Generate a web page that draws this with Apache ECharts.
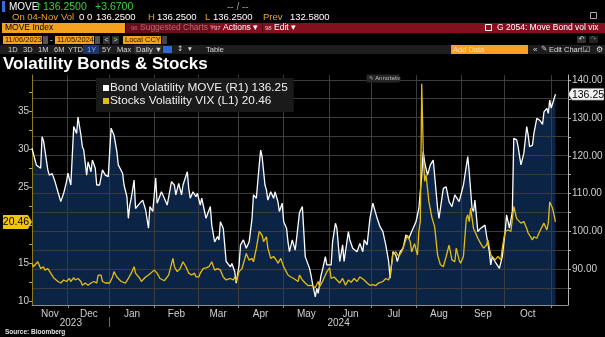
<!DOCTYPE html>
<html><head><meta charset="utf-8">
<script src="https://cdn.jsdelivr.net/npm/echarts@6/dist/echarts.min.js"></script>
<style>html,body{margin:0;padding:0;background:#000;overflow:hidden}#c{width:605px;height:337px}</style>
</head><body><div id="c"></div>
<script>
// ---- data ----
const moveDates = ['2023-11-06','2023-11-09','2023-11-12','2023-11-13','2023-11-14','2023-11-17','2023-11-18','2023-11-20','2023-11-22','2023-11-24','2023-11-26','2023-11-28','2023-11-30','2023-12-01','2023-12-03','2023-12-05','2023-12-07','2023-12-08','2023-12-10','2023-12-11','2023-12-12','2023-12-14','2023-12-15','2023-12-17','2023-12-18','2023-12-20','2023-12-21','2023-12-23','2023-12-25','2023-12-27','2023-12-29','2023-12-31','2024-01-02','2024-01-04','2024-01-05','2024-01-06','2024-01-08','2024-01-09','2024-01-11','2024-01-12','2024-01-13','2024-01-14','2024-01-16','2024-01-17','2024-01-20','2024-01-22','2024-01-24','2024-01-26','2024-01-27','2024-01-29','2024-01-31','2024-02-01','2024-02-04','2024-02-06','2024-02-08','2024-02-11','2024-02-13','2024-02-14','2024-02-16','2024-02-18','2024-02-19','2024-02-22','2024-02-23','2024-02-24','2024-02-26','2024-02-28','2024-02-29','2024-03-02','2024-03-03','2024-03-05','2024-03-06','2024-03-09','2024-03-10','2024-03-12','2024-03-14','2024-03-15','2024-03-16','2024-03-18','2024-03-19','2024-03-20','2024-03-23','2024-03-24','2024-03-26','2024-03-27','2024-03-29','2024-03-30','2024-04-01','2024-04-03','2024-04-05','2024-04-07','2024-04-08','2024-04-10','2024-04-12','2024-04-13','2024-04-14','2024-04-16','2024-04-17','2024-04-18','2024-04-20','2024-04-22','2024-04-23','2024-04-25','2024-04-26','2024-04-28','2024-04-29','2024-05-01','2024-05-02','2024-05-03','2024-05-05','2024-05-07','2024-05-08','2024-05-10','2024-05-12','2024-05-13','2024-05-14','2024-05-17','2024-05-18','2024-05-19','2024-05-21','2024-05-22','2024-05-23','2024-05-25','2024-05-26','2024-05-28','2024-05-29','2024-06-01','2024-06-02','2024-06-04','2024-06-05','2024-06-07','2024-06-09','2024-06-10','2024-06-13','2024-06-14','2024-06-16','2024-06-19','2024-06-21','2024-06-23','2024-06-24','2024-06-26','2024-06-28','2024-06-30','2024-07-01','2024-07-03','2024-07-05','2024-07-07','2024-07-08','2024-07-09','2024-07-11','2024-07-12','2024-07-13','2024-07-14','2024-07-16','2024-07-17','2024-07-19','2024-07-21','2024-07-23','2024-07-25','2024-07-27','2024-07-28','2024-07-30','2024-08-01','2024-08-03','2024-08-04','2024-08-05','2024-08-07','2024-08-09','2024-08-11','2024-08-12','2024-08-14','2024-08-15','2024-08-18','2024-08-20','2024-08-22','2024-08-24','2024-08-26','2024-08-29','2024-09-01','2024-09-04','2024-09-05','2024-09-07','2024-09-08','2024-09-09','2024-09-11','2024-09-13','2024-09-16','2024-09-17','2024-09-19','2024-09-20','2024-09-21','2024-09-23','2024-09-26','2024-09-28','2024-09-30','2024-10-01','2024-10-03','2024-10-05','2024-10-06','2024-10-08','2024-10-09','2024-10-11','2024-10-12','2024-10-13','2024-10-15','2024-10-16','2024-10-17','2024-10-19','2024-10-20','2024-10-22','2024-10-24','2024-10-26','2024-10-27','2024-10-29','2024-10-30','2024-10-31','2024-11-01','2024-11-04'];
const moveValues = [122.0,117.6,116.7,125.0,124.0,116.3,114.9,115.3,113.2,110.5,107.9,110.1,113.2,115.4,112.3,127.7,125.9,130.2,125.5,122.4,121.5,114.9,118.4,115.8,118.9,116.7,112.3,112.3,116.3,114.9,114.5,127.3,125.5,121.1,117.6,118.0,115.4,112.3,109.2,103.5,107.0,108.8,113.6,106.1,107.5,108.3,105.7,100.9,106.6,105.3,114.1,107.5,110.5,108.8,107.0,113.2,112.3,109.7,112.7,109.7,112.3,115.8,111.4,108.8,110.5,109.2,110.1,107.0,108.8,105.3,103.5,106.6,101.7,97.3,98.7,97.8,102.6,100.9,96.5,92.1,90.7,91.6,89.4,86.4,91.2,96.5,97.8,95.6,97.3,103.5,109.7,108.8,117.6,121.5,119.8,112.3,111.0,108.3,110.5,108.8,110.5,107.9,105.3,107.5,102.6,100.9,97.3,94.7,97.8,95.1,98.2,105.0,106.6,100.0,93.4,90.3,88.5,86.4,82.8,85.0,83.7,88.5,89.9,93.4,91.2,91.2,97.3,102.2,100.9,92.1,96.5,92.1,100.0,97.8,95.6,94.7,96.9,94.7,97.8,96.5,103.5,107.5,107.9,103.5,101.3,100.0,98.2,96.5,92.1,87.7,91.2,94.7,93.8,92.1,94.7,95.6,99.1,98.2,100.0,100.4,102.6,106.1,114.9,121.1,118.4,114.9,117.6,118.9,118.6,106.3,103.5,111.4,111.8,107.9,106.6,109.7,107.9,112.3,119.8,115.8,106.1,105.3,108.3,100.0,100.9,101.7,99.1,94.7,91.2,93.4,92.1,90.3,93.4,100.0,104.4,100.9,105.3,124.6,124.2,122.4,117.6,117.1,120.7,127.7,125.5,122.4,122.8,125.9,129.9,129.4,128.3,131.6,132.5,131.2,134.7,132.58,136.25];

const vixDates = ['2023-11-06','2023-11-07','2023-11-10','2023-11-12','2023-11-14','2023-11-15','2023-11-17','2023-11-19','2023-11-21','2023-11-24','2023-11-26','2023-11-28','2023-11-30','2023-12-02','2023-12-03','2023-12-05','2023-12-06','2023-12-08','2023-12-10','2023-12-11','2023-12-13','2023-12-15','2023-12-17','2023-12-19','2023-12-21','2023-12-22','2023-12-24','2023-12-25','2023-12-27','2023-12-30','2024-01-01','2024-01-02','2024-01-04','2024-01-07','2024-01-10','2024-01-12','2024-01-14','2024-01-16','2024-01-17','2024-01-20','2024-01-21','2024-01-24','2024-01-26','2024-01-27','2024-01-30','2024-02-01','2024-02-03','2024-02-06','2024-02-09','2024-02-12','2024-02-13','2024-02-15','2024-02-17','2024-02-19','2024-02-21','2024-02-23','2024-02-25','2024-02-27','2024-02-28','2024-03-01','2024-03-02','2024-03-04','2024-03-06','2024-03-08','2024-03-10','2024-03-12','2024-03-14','2024-03-16','2024-03-18','2024-03-20','2024-03-23','2024-03-25','2024-03-26','2024-03-27','2024-03-29','2024-03-31','2024-04-03','2024-04-04','2024-04-05','2024-04-07','2024-04-08','2024-04-10','2024-04-12','2024-04-14','2024-04-15','2024-04-17','2024-04-18','2024-04-20','2024-04-22','2024-04-24','2024-04-25','2024-04-26','2024-04-27','2024-04-29','2024-05-02','2024-05-04','2024-05-06','2024-05-09','2024-05-10','2024-05-12','2024-05-14','2024-05-16','2024-05-18','2024-05-21','2024-05-23','2024-05-24','2024-05-26','2024-05-28','2024-05-29','2024-05-31','2024-06-01','2024-06-03','2024-06-05','2024-06-07','2024-06-09','2024-06-11','2024-06-13','2024-06-15','2024-06-17','2024-06-19','2024-06-21','2024-06-24','2024-06-26','2024-06-28','2024-06-30','2024-07-02','2024-07-04','2024-07-07','2024-07-09','2024-07-11','2024-07-12','2024-07-14','2024-07-16','2024-07-18','2024-07-20','2024-07-21','2024-07-24','2024-07-26','2024-07-27','2024-07-29','2024-07-31','2024-08-01','2024-08-02','2024-08-03','2024-08-04','2024-08-05','2024-08-06','2024-08-08','2024-08-10','2024-08-12','2024-08-14','2024-08-16','2024-08-18','2024-08-20','2024-08-21','2024-08-22','2024-08-24','2024-08-26','2024-08-27','2024-08-29','2024-08-30','2024-09-01','2024-09-03','2024-09-04','2024-09-05','2024-09-06','2024-09-08','2024-09-09','2024-09-11','2024-09-13','2024-09-15','2024-09-17','2024-09-18','2024-09-20','2024-09-21','2024-09-23','2024-09-25','2024-09-27','2024-09-28','2024-09-30','2024-10-02','2024-10-04','2024-10-06','2024-10-08','2024-10-09','2024-10-11','2024-10-13','2024-10-15','2024-10-16','2024-10-19','2024-10-20','2024-10-22','2024-10-24','2024-10-25','2024-10-27','2024-10-29','2024-10-30','2024-10-31','2024-11-02','2024-11-03','2024-11-04'];
const vixValues = [15.0,14.55,15.2,14.3,14.55,14.1,14.3,13.7,13.1,12.6,12.4,12.8,12.6,13.0,12.6,13.1,12.8,13.0,12.6,12.1,12.4,12.1,12.4,12.6,12.4,13.45,13.45,12.6,12.4,12.4,13.2,13.9,13.2,12.6,12.4,13.0,13.7,14.55,13.7,13.0,12.6,13.2,13.45,13.2,14.1,13.7,13.0,12.7,13.45,15.65,14.55,13.9,14.3,15.2,14.55,13.7,13.45,13.7,13.2,13.2,13.7,14.3,14.4,14.55,15.2,14.1,14.3,14.1,13.2,12.8,13.0,12.8,13.2,12.6,13.9,14.3,16.3,16.1,15.4,15.65,15.2,17.0,19.2,18.7,17.85,18.5,17.0,15.65,15.9,15.4,15.0,15.2,15.65,14.55,13.45,13.2,13.0,12.6,13.45,12.8,12.4,12.05,12.1,11.8,12.6,11.9,12.6,13.45,13.9,14.4,13.0,13.2,12.8,12.4,13.0,12.1,12.8,12.5,13.0,12.6,13.2,12.8,12.4,12.1,12.2,12.05,12.4,12.6,13.0,12.8,13.45,16.3,16.5,15.9,16.5,16.75,18.7,17.85,16.5,17.6,16.1,19.2,20.5,38.7,30.2,25.8,26.65,23.1,21.1,19.8,16.1,14.8,14.55,15.9,16.1,17.4,15.45,15.2,17.0,15.45,15.0,15.9,20.9,21.4,20.5,22.25,19.6,19.2,18.3,17.6,17.0,17.4,18.1,16.1,15.9,15.45,15.9,15.45,17.0,19.2,19.4,19.2,22.5,20.9,20.7,20.3,20.5,19.6,19.0,18.1,18.5,18.3,19.2,19.0,20.3,19.4,20.3,23.1,22.25,22.25,20.46];

const moveName = 'Bond Volatility MOVE (R1)';
const vixName = 'Stocks Volatility VIX (L1)';
const axisStart = '2023-11-06';
const axisEnd = '2024-11-12 17:00';
// month boundaries and label centres as placed on the reference's (trading-day) axis
const monthGridAt = ['2023-12-01','2023-12-30','2024-01-30 05:00','2024-02-29 12:00','2024-03-28 08:00','2024-04-28 14:00','2024-05-31','2024-06-29','2024-07-30 05:00','2024-08-30 12:00','2024-09-29 14:00','2024-11-01'];
const monthLabelAt = ['2023-11-18 12:00','2023-12-15 12:00','2024-01-14 14:00','2024-02-14 10:00','2024-03-14 10:00','2024-04-12 22:00','2024-05-14 19:00','2024-06-14 12:00','2024-07-14 14:00','2024-08-14 22:00','2024-09-14 12:00','2024-10-15 19:00'];
const monthAbbr = ['Jan','Feb','Mar','Apr','May','Jun','Jul','Aug','Sep','Oct','Nov','Dec'];
const yearLabelAt = ['2023-12-03','2024-06-06 05:00'];
const yearBreak = ['2023-12-30'];
const vixLabels = [10,15,20,25,30,35];
const vixTicks = [10,12.5,15,17.5,20,22.5,25,27.5,30,32.5,35,37.5];
const moveLabels = [90,100,110,120,130,140];
const moveTicks = [85,90,95,100,105,110,115,120,125,130,135,140];
const vixRange = [9.5, 39.84];
const moveRange = [80.63, 141.32];

// ---- build ----
const ts = s => echarts.number.parseDate(s).getTime();
const moveData = moveDates.map((d, i) => [ts(d), moveValues[i]]);
const vixData = vixDates.map((d, i) => [ts(d), vixValues[i]]);
const lastMove = moveValues[moveValues.length - 1];
const lastVix = vixValues[vixValues.length - 1];
const labelMonth = v => monthAbbr[new Date(v + 3 * 86400000).getMonth()];

const F = "'Liberation Sans', Arial, sans-serif";
const DJ = "'DejaVu Sans', sans-serif";
const T = (x, y, text, fill, size, o) => {
  o = o || {};
  return {type: 'text', x: x, y: y, silent: true, z: o.z || 10,
    style: {text: text, fill: fill, font: (o.bold ? 'bold ' : '') + size + 'px ' + (o.font || F),
      align: o.align || 'left', textAlign: o.align || 'left',
      verticalAlign: 'middle', textVerticalAlign: 'middle'}};
};
const R = (x, y, w, h, fill, stroke) => ({type: 'rect', silent: true, z: 5,
  shape: {x: x, y: y, width: w, height: h}, style: {fill: fill || 'none', stroke: stroke || 'none', lineWidth: 1}});

const AMBER = '#f0a430', GREEN = '#35d33a', ORANGE = '#f4a21f', RED = '#84101f';
const header = [
  R(2, 1, 3, 11, '#2e6fe0'),
  T(9, 7, 'MOVE', '#ffffff', 10),
  T(34, 7, '\u2191', GREEN, 10, {font: DJ}),
  T(43, 7, '136.2500', GREEN, 10.5),
  T(95, 7, '+3.6700', GREEN, 10.5),
  T(227, 7, '-- / --', '#9a9a9a', 10),
  R(590.5, 12.5, 6, 6, null, '#aaaaaa'),
  T(12, 17, 'On 04-Nov', AMBER, 9.5),
  T(61, 17, 'Vol', AMBER, 9.5),
  T(79, 17, '0 0', '#ffffff', 9.5),
  T(96, 17, '136.2500', '#ffffff', 9.5),
  T(148, 17, 'H', AMBER, 9.5),
  T(157, 17, '136.2500', '#ffffff', 9.5),
  T(205, 17, 'L', AMBER, 9.5),
  T(213, 17, '136.2500', '#ffffff', 9.5),
  T(263, 17, 'Prev', AMBER, 9.5),
  T(290, 17, '132.5800', '#ffffff', 9.5),
  R(2, 23, 123, 10, ORANGE),
  T(5, 28, 'MOVE Index', '#000000', 8.5),
  R(126, 23, 479, 10, RED),
  R(126, 23, 84, 10, '#6c0d1a'),
  T(131, 28, '96', '#b46a78', 6),
  T(140, 28, 'Suggested Charts \u25BE', '#b46a78', 8.5),
  T(214, 28, '97', '#e8c8cc', 6),
  T(223, 28, 'Actions \u25BE', '#ffffff', 8.5),
  R(262, 23, 1, 10, '#4a0810'),
  T(265, 28, '98', '#e8c8cc', 6),
  T(274, 28, 'Edit \u25BE', '#ffffff', 8.5),
  R(485.5, 24.5, 6, 6, null, '#ffffff'),
  T(497, 28, 'G 2054: Move Bond vol vix', '#ffffff', 8.5),
  R(3, 36, 39, 8, ORANGE),
  T(5, 40, '11/06/2023', '#2a1400', 7.5),
  R(43, 36, 5, 8, '#555555'),
  T(50, 40, '-', '#ffffff', 8),
  R(55, 36, 39, 8, ORANGE),
  T(57, 40, '11/05/2024', '#2a1400', 7.5),
  R(95, 36, 5, 8, '#555555'),
  R(103, 36, 7, 8, '#333333'),
  T(104.5, 40, '<', '#dddddd', 7),
  R(112, 36, 7, 8, '#333333'),
  T(113.5, 40, '>', '#dddddd', 7),
  R(123, 36, 38, 8, ORANGE),
  T(125, 40, 'Local CCY', '#2a1400', 7.5),
  R(162, 36, 5, 8, '#444444'),
  R(577, 36, 9, 7, '#333333'),
  T(581.5, 39.5, '\u21B6', '#dddddd', 7, {align: 'center', font: DJ}),
  R(589, 36, 9, 7, '#222222'),
  T(593.5, 39.5, '\u21B7', '#777777', 7, {align: 'center', font: DJ}),
  R(0, 45, 605, 9, '#1d1d1d'),
  T(8, 49.5, '1D', '#d8d8d8', 7.5),
  T(23, 49.5, '3D', '#d8d8d8', 7.5),
  T(38, 49.5, '1M', '#d8d8d8', 7.5),
  T(54, 49.5, '6M', '#d8d8d8', 7.5),
  T(68, 49.5, 'YTD', '#d8d8d8', 7.5),
  R(83, 45, 16, 9, '#1c3569'),
  T(87, 49.5, '1Y', '#7fb0ff', 7.5),
  T(102, 49.5, '5Y', '#d8d8d8', 7.5),
  T(117, 49.5, 'Max', '#d8d8d8', 7.5),
  R(134, 45, 28, 9, '#2c2c2c'),
  T(136, 49.5, 'Daily \u25BC', '#d8d8d8', 7.5),
  R(163, 46, 9, 7, '#2b6bd6'),
  T(177, 49.5, '\u2195  \u25BE', '#d8d8d8', 7.5, {font: DJ}),
  T(206, 49.5, 'Table', '#d8d8d8', 7.5),
  R(451, 45, 77, 9, ORANGE),
  T(453, 49.5, 'Add Data', '#ffe2a8', 7.5),
  T(533, 49.5, '\u00AB', '#dddddd', 8),
  T(541, 49.5, '\u270E', '#dddddd', 7.5, {font: DJ}),
  T(549, 49.5, 'Edit Chart', '#dddddd', 7.5),
  T(583, 49.5, '\u2611', '#dddddd', 8, {font: DJ}),
  T(596, 49.5, '\u2699', '#dddddd', 8, {font: DJ}),
  T(3, 64.5, 'Volatility Bonds & Stocks', '#ffffff', 17, {bold: true}),
  R(366.5, 74.5, 33, 8, '#262626'),
  T(369, 78.5, '\u270E Annotate', '#bbbbbb', 5.5, {font: DJ}),
  T(5, 332, 'Source: Bloomberg', '#e0e0e0', 6.5, {bold: true})
];

const chart = echarts.init(document.getElementById('c'), null, {renderer: 'canvas'});
const option = {
  backgroundColor: '#000000',
  animation: false,
  grid: {left: 32, right: 37, top: 75, bottom: 32, containLabel: false, outerBoundsMode: 'none'},
  legend: {
    data: [moveName, vixName], orient: 'vertical', left: 96, top: 78, z: 30,
    backgroundColor: '#1a1a1a', padding: [4, 6, 5, 7], itemGap: 1,
    itemWidth: 6, itemHeight: 6, icon: 'rect', selectedMode: false,
    textStyle: {color: '#eeeeee', fontSize: 11.8, fontFamily: F, lineHeight: 12, padding: [0, 0, 0, -4]},
    formatter: n => n + ' ' + (n === moveName ? lastMove : lastVix).toFixed(2)
  },
  xAxis: [{
    type: 'value', min: ts(axisStart), max: ts(axisEnd), z: 3,
    axisLine: {show: true, lineStyle: {color: '#8c8c8c'}},
    axisTick: {show: true, length: 3, customValues: monthGridAt.map(ts), lineStyle: {color: '#8c8c8c'}},
    axisLabel: {customValues: monthLabelAt.map(ts), formatter: labelMonth,
      color: '#d0d0d0', fontSize: 10, fontFamily: F, margin: 4, hideOverlap: false},
    splitLine: {show: false}
  }, {
    type: 'value', min: ts(axisStart), max: ts(axisEnd), position: 'bottom', offset: 12, z: 3,
    axisLine: {show: false},
    axisTick: {show: true, length: 10, customValues: yearBreak.map(ts), lineStyle: {color: '#6a6a6a'}},
    axisLabel: {customValues: yearLabelAt.map(ts), formatter: v => String(new Date(v).getFullYear()),
      color: '#d0d0d0', fontSize: 10, fontFamily: F, margin: 1, hideOverlap: false},
    splitLine: {show: false}
  }],
  yAxis: [{
    type: 'value', position: 'left', min: vixRange[0], max: vixRange[1], z: 3,
    axisLine: {show: true, lineStyle: {color: '#8d7c17'}},
    axisTick: {show: true, length: 3, customValues: vixTicks, lineStyle: {color: '#c0a520'}},
    axisLabel: {customValues: vixLabels, color: '#d0d0d0', fontSize: 10, fontFamily: F, margin: 3},
    splitLine: {show: false}
  }, {
    type: 'value', position: 'right', min: moveRange[0], max: moveRange[1], z: 3,
    axisLine: {show: true, lineStyle: {color: '#b4b4b4'}},
    axisTick: {show: true, length: 3, customValues: moveTicks, lineStyle: {color: '#b4b4b4'}},
    axisLabel: {customValues: moveLabels, formatter: v => v.toFixed(2), color: '#d0d0d0', fontSize: 10, fontFamily: F, margin: 4},
    splitLine: {show: false}
  }],
  series: [{
    name: 'MOVE fill', type: 'line', xAxisIndex: 0, yAxisIndex: 1, data: moveData, z: 1,
    showSymbol: false, silent: true, lineStyle: {width: 0, opacity: 0}, color: '#0b2446',
    areaStyle: {color: '#0b2446', opacity: 1, origin: 'start'}
  }, {
    name: moveName, type: 'line', xAxisIndex: 0, yAxisIndex: 1, data: moveData, z: 4,
    showSymbol: false, color: '#ffffff', lineStyle: {color: '#ffffff', width: 1.3}
  }, {
    name: vixName, type: 'line', xAxisIndex: 0, yAxisIndex: 0, data: vixData, z: 5,
    showSymbol: false, color: '#e4bd14', lineStyle: {color: '#e4bd14', width: 1.3}
  }],
  graphic: header
};
chart.setOption(option);

// grid lines and value tags, positioned through the chart's own axes
const px = v => chart.convertToPixel({xAxisIndex: 0}, v);
const pyM = v => chart.convertToPixel({yAxisIndex: 1}, v);
const pyV = v => chart.convertToPixel({yAxisIndex: 0}, v);
const gx0 = px(ts(axisStart)), gx1 = px(ts(axisEnd));
const gyTop = pyM(moveRange[1]), gyBot = pyM(moveRange[0]);
const snap = p => Math.round(p - 0.5) + 0.5;
const gridStroke = {stroke: '#3c3c3c', lineWidth: 1};
const gridLines = moveTicks.map(v => ({type: 'line', silent: true, z: 2,
    shape: {x1: gx0, y1: snap(pyM(v)), x2: gx1, y2: snap(pyM(v))}, style: gridStroke}))
  .concat(monthGridAt.map(d => ({type: 'line', silent: true, z: 2,
    shape: {x1: snap(px(ts(d))), y1: gyTop, x2: snap(px(ts(d))), y2: gyBot}, style: gridStroke})));
const yV = pyV(lastVix);
const yM = pyM(lastMove);
const tags = [
  {type: 'polygon', silent: true, z: 20, shape: {points: [[3, yV - 7], [28, yV - 7], [32, yV], [28, yV + 7], [3, yV + 7]]}, style: {fill: '#f2c40f'}},
  T(16, yV + 0.5, lastVix.toFixed(2), '#000000', 10.5, {align: 'center', z: 21}),
  {type: 'polygon', silent: true, z: 20, shape: {points: [[568, yM], [572, yM - 6], [604, yM - 6], [604, yM + 6], [572, yM + 6]]}, style: {fill: '#f2f2f2', stroke: '#444', lineWidth: 0.5}},
  T(588, yM + 0.5, lastMove.toFixed(2), '#000000', 10.5, {align: 'center', z: 21})
];
chart.setOption({graphic: header.concat(gridLines, tags)});
</script>
</body></html>
